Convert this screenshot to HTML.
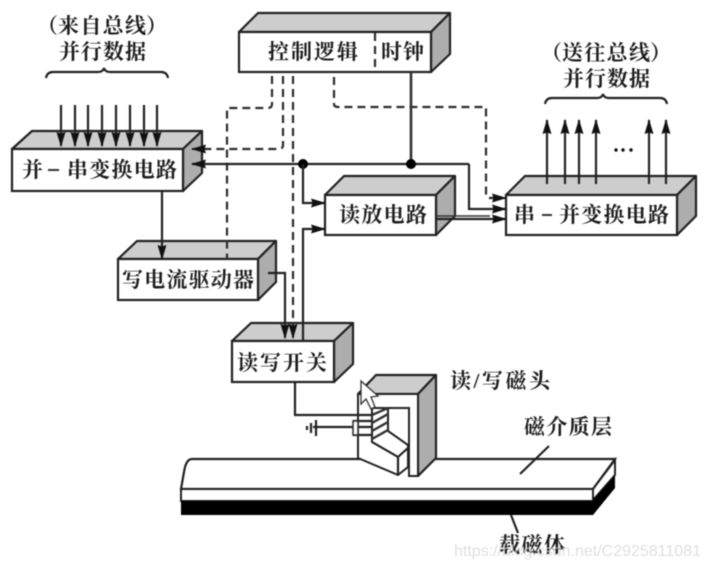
<!DOCTYPE html>
<html><head><meta charset="utf-8"><style>
html,body{margin:0;padding:0;background:#fff;width:708px;height:568px;overflow:hidden}
svg{display:block;filter:blur(.6px)}
text{font-family:"Liberation Serif","Noto Serif CJK SC",serif;font-size:21px;fill:#1c1c1c;font-weight:700}
.l{fill:none;stroke:#222;stroke-width:2.2}
.d{fill:none;stroke:#2c2c2c;stroke-width:2.2;stroke-dasharray:8 5}
.t{fill:#cdcdcd;stroke:#222;stroke-width:2.2;stroke-linejoin:round}
.s{fill:#adadad;stroke:#222;stroke-width:2.2;stroke-linejoin:round}
.f{fill:#fff;stroke:#222;stroke-width:2.2}
</style></head><body>
<svg width="708" height="568" viewBox="0 0 708 568" xmlns="http://www.w3.org/2000/svg">
<defs>
<marker id="a" markerWidth="15" markerHeight="10" refX="14" refY="5" orient="auto" markerUnits="userSpaceOnUse"><path d="M0 .5L15 5L0 9.5L1.5 5Z" fill="#111"/></marker>
</defs>

<!-- media -->
<path class="f" d="M181 489L184 472Q186 459 192 459L615 459L593 489Z"/>
<path d="M181 489H593V501H181Z" fill="#fff" stroke="#222" stroke-width="2"/>
<path d="M181 501H593V515H181Z" fill="#000"/>
<path d="M593 489L615 460V475L593 500Z" fill="#fff" stroke="#222" stroke-width="2"/>
<path d="M593 500L615 475V488L593 515Z" fill="#000"/>
<path class="l" d="M520 474L549 446M511 515L518 533"/>

<!-- boxes -->
<path class="t" d="M12 149L32 131H202L183 149Z"/><path class="s" d="M183 149L202 131V173L183 191Z"/><rect class="f" x="12" y="149" width="171" height="42"/>
<path class="t" d="M239 32L258 13H450L431 32Z"/><path class="s" d="M431 32L450 13V54L431 72Z"/><rect class="f" x="239" y="32" width="192" height="40"/>
<path class="d" d="M375 33V72" stroke-dasharray="5 3"/>
<path class="t" d="M325 195L344 176H455L436 195Z"/><path class="s" d="M436 195L455 176V216L436 235Z"/><rect class="f" x="325" y="195" width="111" height="40"/>
<path class="t" d="M506 195L525 176H696L677 195Z"/><path class="s" d="M677 195L696 176V216L677 235Z"/><rect class="f" x="506" y="195" width="171" height="40"/>
<path class="t" d="M118 259L137 241H276L258 259Z"/><path class="s" d="M258 259L276 241V282L258 300Z"/><rect class="f" x="118" y="259" width="140" height="41"/>
<path class="t" d="M232 341L251 323H353L334 341Z"/><path class="s" d="M334 341L353 323V364L334 382Z"/><rect class="f" x="232" y="341" width="102" height="41"/>

<!-- dashed control lines -->
<path class="d" d="M272 76V104Q272 108 268 108H227V259"/>
<path class="d" d="M283 76V145Q283 149 279 149H205" />
<path d="M206 149H192" stroke="#222" stroke-width="2" marker-end="url(#a)"/>
<path class="d" d="M293 76V326"/>
<path d="M293 326V338" stroke="#222" stroke-width="2" marker-end="url(#a)"/>
<path class="d" d="M334 77V104Q334 107 338 107H486V194Q486 198 490 198H494"/>
<path d="M490 198H506" stroke="#222" stroke-width="2" marker-end="url(#a)"/>

<!-- solid lines -->
<path d="M469 164H192" class="l" marker-end="url(#a)"/>
<path d="M469 164V209H506" class="l" marker-end="url(#a)"/>
<path d="M411 72V164" stroke="#333" stroke-width="2.6"/>
<circle cx="303" cy="164" r="5" fill="#000"/><circle cx="411" cy="164" r="5" fill="#000"/>
<path d="M303 164V203H325" class="l" marker-end="url(#a)"/>
<path d="M303 341V229H325" class="l" marker-end="url(#a)"/>
<path d="M436 216H490" stroke="#333" stroke-width="1.6"/>
<path d="M436 219H506" class="l" marker-end="url(#a)"/>
<path d="M162 191V259" class="l" marker-end="url(#a)"/>
<path d="M268 273H285V338" class="l" marker-end="url(#a)"/>

<!-- bus arrows in -->
<path d="M61 105V146" class="l" marker-end="url(#a)"/><path d="M75 105V146" class="l" marker-end="url(#a)"/>
<path d="M88 105V146" class="l" marker-end="url(#a)"/><path d="M102 105V146" class="l" marker-end="url(#a)"/>
<path d="M116 105V146" class="l" marker-end="url(#a)"/><path d="M130 105V146" class="l" marker-end="url(#a)"/>
<path d="M144 105V146" class="l" marker-end="url(#a)"/><path d="M157 105V146" class="l" marker-end="url(#a)"/>
<!-- bus arrows out -->
<path d="M547 184V120" class="l" marker-end="url(#a)"/><path d="M565 184V120" class="l" marker-end="url(#a)"/>
<path d="M579 184V120" class="l" marker-end="url(#a)"/><path d="M596 184V120" class="l" marker-end="url(#a)"/>
<path d="M649 184V120" class="l" marker-end="url(#a)"/><path d="M666 184V120" class="l" marker-end="url(#a)"/>
<circle cx="616" cy="150" r="1.7" fill="#111"/><circle cx="623" cy="150" r="1.7" fill="#111"/><circle cx="631" cy="150" r="1.7" fill="#111"/>

<!-- braces -->
<path class="l" stroke-width="1.6" d="M46 78Q47 72 53 72H98Q103 72 104 68Q105 72 110 72H161Q167 72 168 78"/>
<path class="l" stroke-width="1.6" d="M545 104Q546 98 552 98H597Q602 98 603 94Q604 98 609 98H660Q666 98 667 104"/>

<!-- head -->
<path class="t" d="M358 394L376 375H436L418 394Z"/>
<path class="s" d="M418 394L436 375V458L418 476Z"/>
<path d="M358 394H418V476H409V408H372V442L358 440Z" fill="#fff" stroke="#222" stroke-width="2"/>
<path d="M372 408H388V431L408 445V448L398 457L372 442Z" fill="#fff" stroke="#222" stroke-width="2"/>
<path d="M358 394V458L398 475L408 467V448L398 457L372 442V408" fill="#fff" stroke="#222" stroke-width="2"/>
<path d="M398 457V475" class="l"/>
<path d="M372 415L388 408M372 423L388 414M372 431L388 422M372 439L388 430" stroke="#333" stroke-width="2.4"/>
<path class="l" d="M295 382V415H372"/>
<path class="l" d="M313 427H372M353 435H372M353 421H372"/>
<rect x="353" y="421" width="5" height="14" fill="#fff" stroke="#333" stroke-width="1.6"/>
<path class="l" d="M316 420V436M311 423V433M307 426V430" stroke-width="1.8"/>

<!-- cursor -->
<path d="M361 381V404L366 399L371 409L375 407L371 397L378 396Z" fill="#fff" stroke="#333" stroke-width="1.3"/>

<!-- labels -->
<text x="37" y="33">（</text><text x="58" y="33" textLength="88" lengthAdjust="spacing">来自总线</text><text x="146" y="33">）</text>
<text x="59" y="59" textLength="87" lengthAdjust="spacing">并行数据</text>
<text x="268" y="59" textLength="90" lengthAdjust="spacing">控制逻辑</text>
<text x="381" y="59" textLength="43" lengthAdjust="spacing">时钟</text>
<text x="541" y="60">（</text><text x="562" y="60" textLength="88" lengthAdjust="spacing">送往总线</text><text x="650" y="60">）</text>
<text x="563" y="86" textLength="87" lengthAdjust="spacing">并行数据</text>
<text x="22" y="177">并</text>
<path d="M48 170H59" stroke="#333" stroke-width="2"/>
<text x="67" y="177" textLength="110" lengthAdjust="spacing">串变换电路</text>
<text x="339" y="222" textLength="88" lengthAdjust="spacing">读放电路</text>
<text x="514" y="222">串</text>
<path d="M542 215H552" stroke="#333" stroke-width="2"/>
<text x="559" y="222" textLength="110" lengthAdjust="spacing">并变换电路</text>
<text x="122" y="287" textLength="132" lengthAdjust="spacing">写电流驱动器</text>
<text x="237" y="370" textLength="90" lengthAdjust="spacing">读写开关</text>
<text x="450" y="388" textLength="100" lengthAdjust="spacing">读/写磁头</text>
<text x="524" y="434" textLength="88" lengthAdjust="spacing">磁介质层</text>
<text x="499" y="552" textLength="66" lengthAdjust="spacing">载磁体</text>
<text x="454" y="556" textLength="247" lengthAdjust="spacing" style="font-family:'Liberation Sans',sans-serif;font-size:16px;font-weight:400;fill:#d8d8d8;fill-opacity:.8">https://blog.csdn.net/C2925811081</text>
</svg>
</body></html>
